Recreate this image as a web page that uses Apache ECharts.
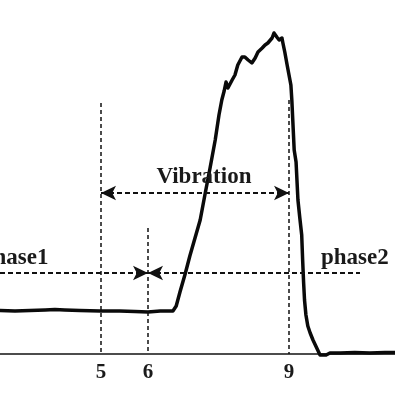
<!DOCTYPE html>
<html><head><meta charset="utf-8">
<script src="https://cdn.jsdelivr.net/npm/echarts@6/dist/echarts.min.js"></script>
<style>html,body{margin:0;padding:0;background:#fff}#c{width:395px;height:395px}</style>
</head><body><div id="c"></div>
<script>
// time axis (s) and signal amplitude (arbitrary units)
const timeSec = [2.85,3.17,3.49,3.81,4.02,4.23,4.55,4.98,5.40,5.72,6.00,6.26,6.53,
  6.60,6.68,6.79,6.89,7.00,7.11,7.21,7.32,7.43,7.51,7.57,7.62,7.66,7.70,7.79,7.85,7.91,
  8.00,8.06,8.13,8.21,8.28,8.34,8.43,8.49,8.55,8.64,8.68,8.74,8.79,8.85,8.87,8.91,8.96,
  9.00,9.04,9.06,9.09,9.11,9.15,9.19,9.23,9.27,9.29,9.31,9.33,9.36,9.40,9.45,9.51,9.60,
  9.66,9.70,9.79,9.87,10.09,10.40,10.72,11.04,11.26];
const signal = [43.5,43,43.5,44,44.5,44,43.5,43,43,42.5,42,43,43,
  48,62,80,98,116,134,159,186,214,239,254,263,272,266,274,279,289,
  297,297,294,291,296,302,306,309,311,316,321,317,314,316,311,302,289,
  279,269,254,224,204,192,154,136,119,94,72,54,39,28,21,14,5,
  -1,-3,-1,1,1,1.5,1,1.5,1.5];
const tickValues = [5, 6, 9];
const vibrationStart = 5, vibrationEnd = 9, phaseSplit = 6;
const labels = {vibration: 'Vibration', phase1: 'phase1', phase2: 'phase2'};

const xMin = 2.851, xMax = 11.255;
const txtFont = {fontFamily: 'Liberation Serif', fontWeight: 'bold', color: '#1a1a1a'};
const arrowDash = {type: [5, 3], width: 2, color: '#111'};
const vDash = {type: [4, 3], width: 1.5, color: '#111'};
const arrowSize = [11, 15];

const chart = echarts.init(document.getElementById('c'), null, {renderer: 'canvas'});
chart.setOption({
  animation: false,
  backgroundColor: '#fff',
  grid: {left: 0, right: 0, top: 0, bottom: 41, containLabel: false},
  xAxis: {
    type: 'value', min: xMin, max: xMax,
    axisLine: {show: true, lineStyle: {color: '#111', width: 1.5}},
    axisTick: {show: false},
    splitLine: {show: false},
    axisLabel: {customValues: tickValues, margin: 8, fontSize: 21, ...txtFont,
      formatter: v => String(v)}
  },
  yAxis: {type: 'value', min: 0, max: 354, show: false, splitLine: {show: false}},
  series: [{
    type: 'line', clip: false, showSymbol: false, symbol: 'none',
    data: timeSec.map((t, i) => [t, signal[i]]),
    lineStyle: {color: '#0a0a0a', width: 3.5, join: 'round'},
    markLine: {
      silent: true, symbol: ['none', 'none'], symbolSize: arrowSize,
      label: {show: false},
      data: [
        [{coord: [vibrationStart, 251], lineStyle: vDash}, {coord: [vibrationStart, 0]}],
        [{coord: [phaseSplit, 126], lineStyle: vDash}, {coord: [phaseSplit, 0]}],
        [{coord: [vibrationEnd, 254], lineStyle: vDash}, {coord: [vibrationEnd, 0]}],
        [{coord: [vibrationStart, 161], symbol: 'arrow', lineStyle: arrowDash}, {coord: [vibrationEnd, 161], symbol: 'arrow'}],
        [{coord: [xMin, 81], symbol: 'none', lineStyle: arrowDash}, {coord: [phaseSplit, 81], symbol: 'arrow'}],
        [{coord: [phaseSplit, 81], symbol: 'arrow', lineStyle: arrowDash}, {coord: [10.51, 81], symbol: 'none'}]
      ]
    },
    markPoint: {
      silent: true, symbol: 'circle', symbolSize: 1,
      itemStyle: {color: 'rgba(0,0,0,0)'},
      label: {show: true, position: 'inside', fontSize: 23, ...txtFont},
      data: [
        {coord: [7.19, 177], label: {formatter: labels.vibration}},
        {coord: [3.16, 96], label: {formatter: labels.phase1}},
        {coord: [10.40, 96], label: {formatter: labels.phase2}}
      ]
    }
  }]
});
</script></body></html>
